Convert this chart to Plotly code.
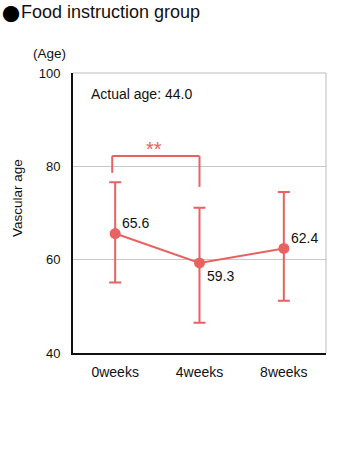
import plotly.graph_objects as go

categories = ["0weeks", "4weeks", "8weeks"]
values = [65.6, 59.3, 62.4]
err_plus = [11.0, 11.8, 12.1]
err_minus = [10.5, 12.8, 11.2]
value_labels = ["65.6", "59.3", "62.4"]
y_ticks = [40, 60, 80, 100]
actual_age = 44.0

RED = "#e96262"
FONT = "Liberation Sans, Arial, Helvetica, sans-serif"

fig = go.Figure()
fig.add_trace(go.Scatter(
    x=categories, y=values, mode="lines+markers",
    line=dict(color=RED, width=2),
    marker=dict(color=RED, size=11),
    error_y=dict(type="data", symmetric=False, array=err_plus, arrayminus=err_minus,
                 color=RED, thickness=2, width=6),
    showlegend=False, hoverinfo="skip",
))

# value labels (x shift, y shift in px)
offsets = [(5, 11), (5, -13), (5, 10)]
for i, (c, v, t) in enumerate(zip(categories, values, value_labels)):
    fig.add_annotation(x=c, y=v, text=t, showarrow=False, xanchor="left", yanchor="middle",
                       xshift=offsets[i][0], yshift=offsets[i][1],
                       font=dict(size=14, color="#111", family=FONT))

# significance bracket
fig.add_shape(type="line", xref="x", yref="y", x0=-0.035, x1=-0.035, y0=78.6, y1=82.2,
              line=dict(color=RED, width=2))
fig.add_shape(type="line", xref="x", yref="y", x0=-0.035, x1=1.0, y0=82.2, y1=82.2,
              line=dict(color=RED, width=2))
fig.add_shape(type="line", xref="x", yref="y", x0=1.0, x1=1.0, y0=75.6, y1=82.2,
              line=dict(color=RED, width=2))
fig.add_annotation(x=0.46, y=82.2, text="**", showarrow=False, yanchor="middle", yshift=7,
                   font=dict(size=20, color=RED, family=FONT))

# frame (top/right gray)
fig.add_shape(type="line", xref="paper", yref="paper", x0=0, x1=1, y0=1, y1=1,
              line=dict(color="#bbbbbb", width=1))
fig.add_shape(type="line", xref="paper", yref="paper", x0=1, x1=1, y0=0, y1=1,
              line=dict(color="#bbbbbb", width=1))

fig.add_annotation(xref="paper", yref="paper", x=0.064, y=0.925, text=f"Actual age: {actual_age:.1f}",
                   showarrow=False, xanchor="left", yanchor="middle",
                   font=dict(size=14, color="#111", family=FONT))
fig.add_annotation(xref="paper", yref="paper", x=-0.0936, y=1.071, text="(Age)",
                   showarrow=False, xanchor="center", yanchor="middle",
                   font=dict(size=13.5, color="#111", family=FONT))
fig.add_annotation(xref="paper", yref="paper", x=-0.217, y=0.554, text="Vascular age",
                   showarrow=False, xanchor="center", yanchor="middle", textangle=-90,
                   font=dict(size=13.5, color="#111", family=FONT))
fig.add_annotation(xref="paper", yref="paper", x=-0.244, y=1.214, text="●",
                   showarrow=False, xanchor="center", yanchor="middle",
                   font=dict(size=18, color="#000", family="Noto Sans CJK JP"))
fig.add_annotation(xref="paper", yref="paper", x=-0.2115, y=1.218, text="Food instruction group",
                   showarrow=False, xanchor="left", yanchor="middle",
                   font=dict(size=18, color="#111", family=FONT))

fig.update_layout(
    width=350, height=460,
    margin=dict(l=73, r=24, t=73, b=107),
    paper_bgcolor="white", plot_bgcolor="white",
    font=dict(family=FONT, color="#111"),
    xaxis=dict(range=[-0.5, 2.5], showgrid=False, showline=True, linecolor="#111", linewidth=2,
               ticks="", tickfont=dict(size=14), ticklabelstandoff=5, zeroline=False, fixedrange=True),
    yaxis=dict(range=[40, 100], tickvals=y_ticks, showgrid=True, gridcolor="#c8c8c8", gridwidth=1,
               showline=True, linecolor="#111", linewidth=2, ticks="", ticklabelstandoff=8,
               tickfont=dict(size=13), zeroline=False),
)

fig.write_html("out.html")
